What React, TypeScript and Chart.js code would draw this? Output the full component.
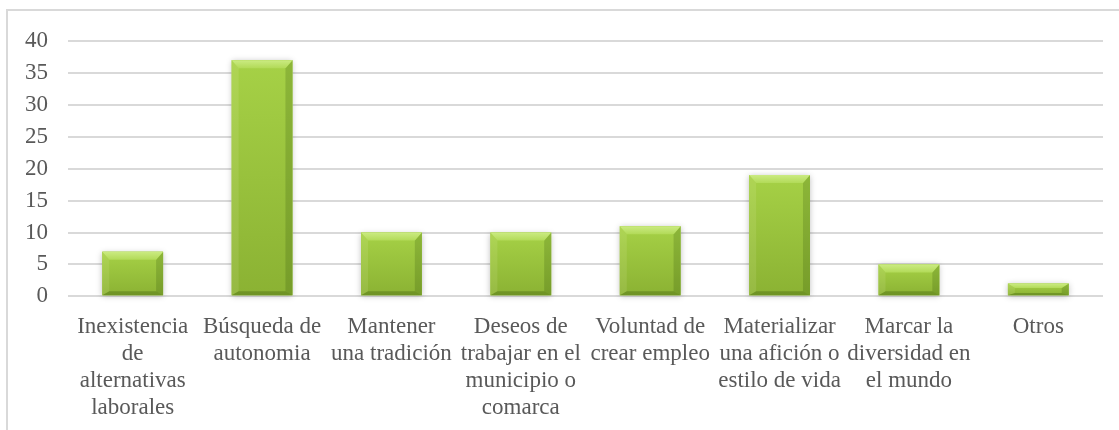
import React, { useEffect, useRef } from "react";
import { Chart, registerables } from "chart.js";

Chart.register(...registerables);

const categories: string[][] = [
  ["Inexistencia", "de", "alternativas", "laborales"],
  ["Búsqueda de", "autonomia"],
  ["Mantener", "una tradición"],
  ["Deseos de", "trabajar en el", "municipio o", "comarca"],
  ["Voluntad de", "crear empleo"],
  ["Materializar", "una afición o", "estilo de vida"],
  ["Marcar la", "diversidad en", "el mundo"],
  ["Otros"],
];

const values: number[] = [7, 37, 10, 10, 11, 19, 5, 2];

const yMin = 0;
const yMax = 40;
const yStep = 5;

const FONT = '"Liberation Serif", "Times New Roman", serif';
const TEXT = "#595959";

function poly(ctx: CanvasRenderingContext2D, pts: number[][], fill: string | CanvasGradient) {
  ctx.beginPath();
  ctx.moveTo(pts[0][0], pts[0][1]);
  for (let i = 1; i < pts.length; i++) ctx.lineTo(pts[i][0], pts[i][1]);
  ctx.closePath();
  ctx.fillStyle = fill;
  ctx.fill();
}

const bevelPlugin = {
  id: "bevel",
  beforeDatasetsDraw(chart: any) {
    const ctx: CanvasRenderingContext2D = chart.ctx;
    const meta = chart.getDatasetMeta(0);
    ctx.save();
    meta.data.forEach((el: any) => {
      const { x, y, base, width } = el.getProps(["x", "y", "base", "width"], true);
      ctx.shadowColor = "rgba(0,0,0,0.25)";
      ctx.shadowBlur = 6;
      ctx.shadowOffsetX = 0;
      ctx.shadowOffsetY = 1;
      ctx.fillStyle = "#ffffff";
      ctx.fillRect(x - width / 2, y, width, base - y);
    });
    ctx.restore();
  },
  afterDatasetsDraw(chart: any) {
    const ctx: CanvasRenderingContext2D = chart.ctx;
    const meta = chart.getDatasetMeta(0);
    ctx.save();
    meta.data.forEach((el: any) => {
      const { x, y, base, width } = el.getProps(["x", "y", "base", "width"], true);
      const L = x - width / 2;
      const R = x + width / 2;
      const T = y;
      const B = base;
      const h = B - T;
      const bt = Math.min(8, h * 0.38);
      const bs = Math.min(7, width * 0.12);
      const bb = Math.min(4, h * 0.2);
      const g = ctx.createLinearGradient(0, T, 0, B);
      g.addColorStop(0, "#a6d146");
      g.addColorStop(1, "#8bb233");
      ctx.fillStyle = g;
      ctx.fillRect(L, T, width, h);
      poly(ctx, [[L, T], [L + bs, T + bt], [L + bs, B - bb], [L, B]], "rgba(255,255,220,0.10)");
      poly(ctx, [[R, T], [R - bs, T + bt], [R - bs, B - bb], [R, B]], "rgba(30,60,0,0.18)");
      const gt = ctx.createLinearGradient(0, T, 0, T + bt);
      gt.addColorStop(0, "#cbeb82");
      gt.addColorStop(1, "#b2da58");
      poly(ctx, [[L, T], [R, T], [R - bs, T + bt], [L + bs, T + bt]], gt);
      poly(ctx, [[L, B], [R, B], [R - bs, B - bb], [L + bs, B - bb]], "rgba(40,70,0,0.28)");
    });
    ctx.restore();
  },
};

export default function App() {
  const canvasRef = useRef<HTMLCanvasElement | null>(null);

  useEffect(() => {
    if (!canvasRef.current) return;
    const chart = new Chart(canvasRef.current, {
      type: "bar",
      data: {
        labels: categories,
        datasets: [
          {
            data: values,
            backgroundColor: "#95c03a",
            borderWidth: 0,
            barPercentage: 0.47,
            categoryPercentage: 1,
          },
        ],
      },
      options: {
        animation: false,
        responsive: true,
        maintainAspectRatio: false,
        layout: { padding: { left: 5, right: 16, top: 41, bottom: 6 } },
        plugins: { legend: { display: false }, tooltip: { enabled: false } },
        scales: {
          x: {
            grid: { display: false, drawTicks: false },
            border: { display: false },
            ticks: {
              color: TEXT,
              font: { family: FONT, size: 23, lineHeight: 1.17 },
              padding: 17,
              maxRotation: 0,
              minRotation: 0,
              autoSkip: false,
            },
          },
          y: {
            min: yMin,
            max: yMax,
            grid: { color: "#d9d9d9", lineWidth: 2, drawTicks: false },
            border: { display: false },
            ticks: {
              stepSize: yStep,
              color: TEXT,
              font: { family: FONT, size: 23 },
              padding: 20,
              autoSkip: false,
            },
          },
        },
      },
      plugins: [bevelPlugin],
    });
    return () => chart.destroy();
  }, []);

  return (
    <div
      style={{
        position: "absolute",
        left: 0,
        top: 0,
        width: 1119,
        height: 430,
        overflow: "hidden",
        background: "#ffffff",
      }}
    >
      <div
        style={{
          position: "absolute",
          left: 6,
          top: 9,
          width: 1200,
          height: 500,
          border: "2px solid #d9d9d9",
          boxSizing: "border-box",
        }}
      />
      <div style={{ position: "absolute", left: 0, top: 0, width: 1119, height: 444 }}>
        <canvas ref={canvasRef} />
      </div>
    </div>
  );
}
